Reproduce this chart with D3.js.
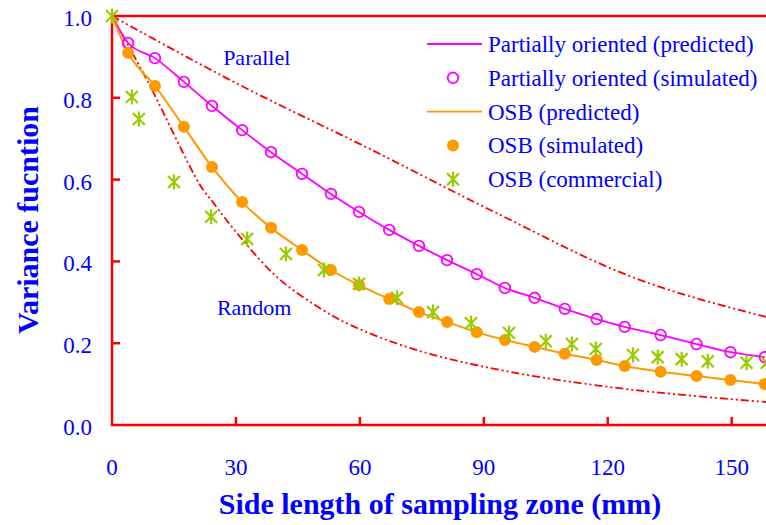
<!DOCTYPE html>
<html>
<head>
<meta charset="utf-8">
<script src="https://cdn.jsdelivr.net/npm/d3@7"></script>
<style>
  body { margin: 0; background: #fff; }
  text { font-family: "Liberation Serif", "Times New Roman", serif; fill: #0000ff; }
</style>
</head>
<body>
<div id="chart"></div>
<script>
// sampled side lengths (mm) for the simulated series
let simX = [3.9, 10.4, 17.4, 24.2, 31.5, 38.5, 46, 53, 59.8, 67.1, 74.3, 81.1, 88.3, 95.1, 102.3, 109.6, 117.3, 124.1, 132.8, 141.5, 149.7, 158]
let poSim = [0.934, 0.897, 0.839, 0.780, 0.721, 0.667, 0.614, 0.565, 0.521, 0.477, 0.438, 0.403, 0.369, 0.335, 0.311, 0.284, 0.259, 0.240, 0.220, 0.198, 0.178, 0.166]
let osbSim = [0.910, 0.829, 0.729, 0.631, 0.545, 0.482, 0.428, 0.379, 0.342, 0.308, 0.276, 0.252, 0.227, 0.208, 0.191, 0.174, 0.159, 0.144, 0.130, 0.120, 0.110, 0.100]

// commercial OSB measurements
let comX = [0, 4.8, 6.5, 15, 24, 32.7, 42.1, 51.3, 59.8, 69, 77.7, 86.9, 96.1, 105, 111.3, 117.1, 126.1, 132.1, 137.9, 144.2, 153.6, 158.5]
let comV = [1.0, 0.802, 0.748, 0.594, 0.509, 0.455, 0.418, 0.379, 0.345, 0.311, 0.276, 0.249, 0.225, 0.205, 0.198, 0.186, 0.171, 0.166, 0.161, 0.156, 0.152, 0.152]

// bounding curves
let parX = [0, 31, 62.4, 93.9, 124.6, 158.5]
let parV = [1.0, 0.831, 0.675, 0.514, 0.367, 0.264]
let randX = [0, 8.7, 21.3, 24.4, 31, 39.9, 49.8, 57.6, 73.8, 96.3, 126.1, 158.5]
let randV = [1.0, 0.839, 0.587, 0.545, 0.460, 0.362, 0.289, 0.245, 0.183, 0.130, 0.086, 0.056]

let xTicks = [0, 30, 60, 90, 120, 150]
let yTicks = [0, 0.2, 0.4, 0.6, 0.8, 1.0]

let legendItems = [
  { label: 'Partially oriented (predicted)', type: 'line', color: '#ff00ff' },
  { label: 'Partially oriented (simulated)', type: 'open', color: '#ff00ff' },
  { label: 'OSB (predicted)', type: 'line', color: '#ff9900' },
  { label: 'OSB (simulated)', type: 'dot', color: '#ff9900' },
  { label: 'OSB (commercial)', type: 'star', color: '#99cc00' }
]

let W = 766
let H = 525
let margin = { top: 16, left: 112, bottom: 100 }
let plotW = 661
let plotH = H - margin.top - margin.bottom

let svg = d3.select('#chart').append('svg')
  .attr('width', W)
  .attr('height', H)

let x = d3.scaleLinear().domain([0, 160]).range([margin.left, margin.left + plotW])
let y = d3.scaleLinear().domain([0, 1]).range([margin.top + plotH, margin.top])

let red = '#ff0000'

// frame
svg.append('rect')
  .attr('x', x(0))
  .attr('y', y(1))
  .attr('width', plotW)
  .attr('height', plotH)
  .attr('fill', 'none')
  .attr('stroke', red)
  .attr('stroke-width', 2.5)

// ticks, pointing inward
svg.selectAll('.ytick')
  .data(yTicks.filter((d) => d > 0 && d < 1))
  .enter().append('line')
  .attr('x1', x(0)).attr('x2', x(0) + 8)
  .attr('y1', (d) => y(d)).attr('y2', (d) => y(d))
  .attr('stroke', red).attr('stroke-width', 2.5)

svg.selectAll('.xtick')
  .data(xTicks.filter((d) => d > 0))
  .enter().append('line')
  .attr('x1', (d) => x(d)).attr('x2', (d) => x(d))
  .attr('y1', y(0)).attr('y2', y(0) - 8)
  .attr('stroke', red).attr('stroke-width', 2.5)

svg.selectAll('.ylabel')
  .data(yTicks)
  .enter().append('text')
  .attr('x', 92)
  .attr('y', (d) => y(d) + 10)
  .attr('text-anchor', 'end')
  .attr('font-size', 23)
  .text((d) => d.toFixed(1))

svg.selectAll('.xlabel')
  .data(xTicks)
  .enter().append('text')
  .attr('x', (d) => x(d))
  .attr('y', y(0) + 50)
  .attr('text-anchor', 'middle')
  .attr('font-size', 23)
  .text((d) => d)

// axis titles
svg.append('text')
  .attr('x', 440)
  .attr('y', 514)
  .attr('text-anchor', 'middle')
  .attr('font-size', 30)
  .attr('font-weight', 'bold')
  .text('Side length of sampling zone (mm)')

svg.append('text')
  .attr('transform', 'translate(38,220)rotate(-90)')
  .attr('text-anchor', 'middle')
  .attr('font-size', 30)
  .attr('font-weight', 'bold')
  .text('Variance fucntion')

// lines
let line = d3.line()
  .x((d) => x(d[0]))
  .y((d) => y(d[1]))
  .curve(d3.curveMonotoneX)

let smooth = d3.line()
  .x((d) => x(d[0]))
  .y((d) => y(d[1]))
  .curve(d3.curveCatmullRom.alpha(0.5))

let zip = (xs, vs) => xs.map((v, i) => [v, vs[i]])

svg.append('path')
  .datum(zip(parX, parV))
  .attr('d', line)
  .attr('fill', 'none')
  .attr('stroke', red)
  .attr('stroke-width', 1.8)
  .attr('stroke-dasharray', '8,3,2,3,2,3')

svg.append('path')
  .datum(zip(randX, randV))
  .attr('d', smooth)
  .attr('fill', 'none')
  .attr('stroke', red)
  .attr('stroke-width', 1.8)
  .attr('stroke-dasharray', '8,3,2,3,2,3')

svg.append('path')
  .datum([[0, 1]].concat(zip(simX, poSim)))
  .attr('d', line)
  .attr('fill', 'none')
  .attr('stroke', '#ff00ff')
  .attr('stroke-width', 1.8)

svg.append('path')
  .datum([[0, 1]].concat(zip(simX, osbSim)))
  .attr('d', line)
  .attr('fill', 'none')
  .attr('stroke', '#ff9900')
  .attr('stroke-width', 2)

// markers
function star (g, color) {
  let r = 7.5
  let d = r * 0.8
  g.append('path')
    .attr('d', 'M0,' + (-r) + 'V' + r +
      'M' + (-d) + ',' + (-d) + 'L' + d + ',' + d +
      'M' + (-d) + ',' + d + 'L' + d + ',' + (-d))
    .attr('stroke', color)
    .attr('stroke-width', 2.2)
    .attr('fill', 'none')
}

svg.selectAll('.posim')
  .data(zip(simX, poSim))
  .enter().append('circle')
  .attr('cx', (d) => x(d[0]))
  .attr('cy', (d) => y(d[1]))
  .attr('r', 5.3)
  .attr('fill', 'none')
  .attr('stroke', '#ff00ff')
  .attr('stroke-width', 1.8)

svg.selectAll('.osbsim')
  .data(zip(simX, osbSim))
  .enter().append('circle')
  .attr('cx', (d) => x(d[0]))
  .attr('cy', (d) => y(d[1]))
  .attr('r', 6)
  .attr('fill', '#ff9900')

svg.selectAll('.com')
  .data(zip(comX, comV))
  .enter().append('g')
  .attr('transform', (d) => 'translate(' + x(d[0]) + ',' + y(d[1]) + ')')
  .each(function () { star(d3.select(this), '#99cc00') })

// curve labels
svg.append('text')
  .attr('x', x(26.9))
  .attr('y', y(0.880))
  .attr('font-size', 22)
  .text('Parallel')

svg.append('text')
  .attr('x', x(25.4))
  .attr('y', y(0.269))
  .attr('font-size', 22)
  .text('Random')

// legend
let legend = svg.selectAll('.legend')
  .data(legendItems)
  .enter().append('g')
  .attr('transform', (d, i) => 'translate(427,' + (44 + i * 33.8) + ')')

legend.each(function (d) {
  let g = d3.select(this)
  if (d.type === 'line') {
    g.append('line').attr('x1', 0).attr('x2', 55)
      .attr('stroke', d.color).attr('stroke-width', 1.8)
  } else if (d.type === 'open') {
    g.append('circle').attr('cx', 26).attr('r', 5.3)
      .attr('fill', 'none').attr('stroke', d.color).attr('stroke-width', 1.8)
  } else if (d.type === 'dot') {
    g.append('circle').attr('cx', 26).attr('r', 6).attr('fill', d.color)
  } else {
    star(g.append('g').attr('transform', 'translate(26,0)'), d.color)
  }
  g.append('text')
    .attr('x', 61)
    .attr('y', 8)
    .attr('font-size', 23)
    .text(d.label)
})
</script>
</body>
</html>
